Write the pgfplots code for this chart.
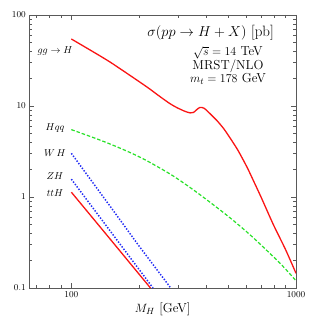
\documentclass[border=0pt]{standalone}
\usepackage{pgfplots}
\pgfplotsset{compat=1.18}
\definecolor{cred}{RGB}{250,20,20}
\definecolor{cgreen}{RGB}{40,225,40}
\definecolor{cblue}{RGB}{35,45,245}
\begin{document}
\begin{tikzpicture}
\begin{axis}[
  scale only axis,
  width=266.7pt, height=273pt,
  xmode=log, ymode=log,
  xmin=65, xmax=1000, ymin=0.1, ymax=100,
  log basis x=10, log basis y=10,
  xtick={100,1000}, xticklabels={100,1000},
  minor xtick={70,80,90,200,300,400,500,600,700,800,900},
  ytick={0.1,1,10,100}, yticklabels={0.1,1,10,100},
  minor ytick={0.2,0.3,0.4,0.5,0.6,0.7,0.8,0.9,2,3,4,5,6,7,8,9,20,30,40,50,60,70,80,90},
  tick align=inside,
  major tick length=5pt, minor tick length=3pt,
  xtick pos=both, ytick pos=both,
  tick style={black!65, line width=0.6pt},
  axis line style={black!65, line width=0.9pt},
  ticklabel style={font=\fontsize{9}{10}\selectfont},
  xlabel={$M_H$ [GeV]},
  xlabel style={font=\fontsize{13}{15}\selectfont, yshift=2pt},
  clip=true,
]
% gg -> H
\addplot[cred, line width=1.3pt, smooth, tension=0.4] coordinates {
(100,54.5) (115,44.5) (132,36.4) (150,30) (186,21) (220,15.8) (249,12.6)
(275,10.6) (295,9.6) (320,8.75) (338,8.4) (350,8.5) (362,9.15) (374,9.65)
(390,9.45) (415,8.2) (445,6.9) (475,5.7) (500,4.75) (550,3.3) (604,2.15)
(635,1.66) (700,0.99) (792,0.5) (900,0.262) (1000,0.145)
};
% Hqq
\addplot[cgreen, line width=1.2pt, dash pattern=on 3.5pt off 2pt, smooth] coordinates {
(100,5.50) (135,4.20) (170,3.33) (210,2.61) (275,1.79) (332,1.31) (387,0.994)
(468,0.695) (545,0.513) (646,0.356) (849,0.187) (1000,0.120)
};
% WH
\addplot[cblue, line width=1.5pt, dash pattern=on 1.4pt off 1.6pt] coordinates {
(100,3.02) (150,0.77) (200,0.29) (277,0.1)
};
% ZH
\addplot[cblue, line width=1.5pt, dash pattern=on 1.4pt off 1.6pt] coordinates {
(100,1.57) (150,0.413) (231,0.1)
};
% ttH
\addplot[cred, line width=1.3pt] coordinates {
(100,1.13) (150,0.337) (225,0.1)
};
\node[font=\fontsize{10}{12}\selectfont, inner sep=0pt] at (rel axis cs:0.0964,0.868) {$gg\to H$};
\node[font=\fontsize{10}{12}\selectfont, inner sep=0pt] at (rel axis cs:0.0964,0.586) {$Hqq$};
\node[font=\fontsize{10}{12}\selectfont, inner sep=0pt] at (rel axis cs:0.0964,0.4945) {$W\,H$};
\node[font=\fontsize{10}{12}\selectfont, inner sep=0pt] at (rel axis cs:0.0964,0.410) {$ZH$};
\node[font=\fontsize{10}{12}\selectfont, inner sep=0pt] at (rel axis cs:0.0964,0.348) {$ttH$};
\node[font=\fontsize{15}{17}\selectfont, inner sep=0pt] at (rel axis cs:0.68,0.936) {$\sigma(pp\to H+X)$ [pb]};
\node[font=\fontsize{13}{15}\selectfont, inner sep=0pt] at (rel axis cs:0.745,0.862) {$\sqrt{s}=14$ TeV};
\node[font=\fontsize{13}{15}\selectfont, inner sep=0pt] at (rel axis cs:0.745,0.813) {MRST/NLO};
\node[font=\fontsize{13}{15}\selectfont, inner sep=0pt] at (rel axis cs:0.745,0.766) {$m_t=178$ GeV};
\end{axis}
\path (current axis.south west) ++(-29.3pt,-35pt) coordinate (bbA);
\path (current axis.north east) ++(20pt,15pt) coordinate (bbB);
\path (bbA) rectangle (bbB);
\end{tikzpicture}
\end{document}
